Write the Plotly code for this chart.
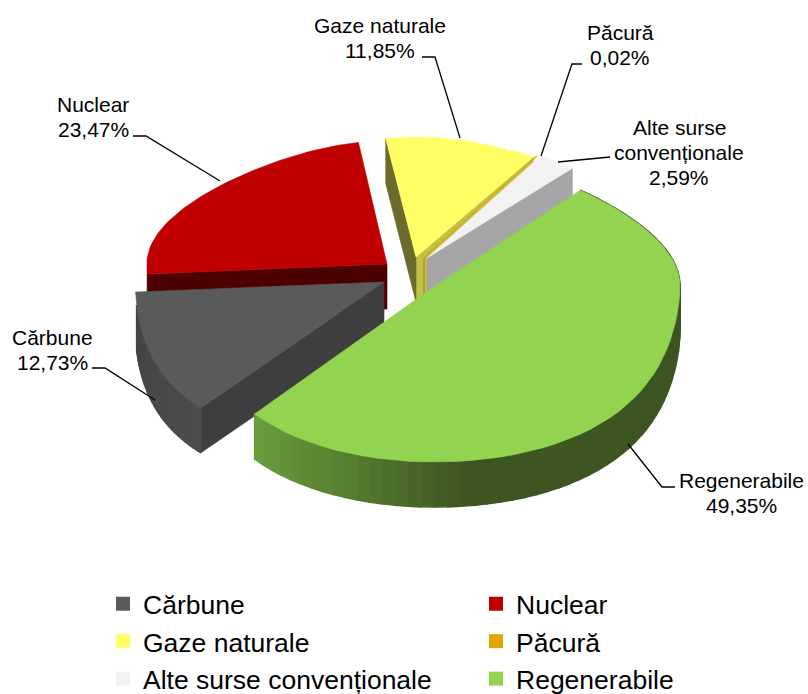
import math
import plotly.graph_objects as go

# ---- data ----
categories = ["Cărbune", "Nuclear", "Gaze naturale", "Păcură", "Alte surse convenționale", "Regenerabile"]
values = [12.73, 23.47, 11.85, 0.02, 2.59, 49.35]
label_lines = [["Cărbune"], ["Nuclear"], ["Gaze naturale"], ["Păcură"], ["Alte surse", "convenționale"], ["Regenerabile"]]

# ---- styles ----
top_colors = ["#5a5a5a", "#c00000", "#ffff66", "#e3a600", "#f2f2f2", "#92d350"]
wall_colors = ["#3e3e3e", "#4c0000", "#6b6b2c", "#b8860b", "#a6a6a6", "#3d5521"]
end_wall_colors = [None, None, "#c0c04c", None, None, None]
apexes = [(384, 282), (387, 264), (416, 257), (424, 258), (427, 258), (435, 286)]
near_ry = [166, 166, 166, 166, 166, 176]
far_ry = [123, 123, 120, 123, 123, 131]
near_pow = [1, 1, 1, 1, 1, 1.15]
rx_scale = [1.015, 0.98, 1.04, 1, 1, 1]
legend_slots = ["legend", "legend2", "legend", "legend2", "legend", "legend2"]
start_angle = 220.7   # clockwise from 12 o'clock, first slice start
label_centers = [(52, 337), (93, 104), (380, 25), (620, 32), (679, 127), (741, 480)]
leaders = [
    [(92, 368), (105, 368), (155, 400)],
    [(133, 136), (146, 136), (220, 181)],
    [(422, 57), (435, 57), (460, 138)],
    [(582, 64), (572, 64), (541, 156)],
    [(558, 162), (605, 157), (610, 157)],
    [(675, 487), (662, 487), (628, 444)],
]
LINE_GAP = 25
FONT = "Liberation Sans"
DEPTH = 45


def project(phi, i):
    apex = apexes[i]
    u, v = math.sin(math.radians(phi)), -math.cos(math.radians(phi))
    if v > 0:
        rx = 245 + 55 * v * v
        dy = near_ry[i] * v ** near_pow[i]
    else:
        rx = 245 - 60 * v * v
        dy = far_ry[i] * v
    return apex[0] + rx_scale[i] * rx * u, apex[1] + dy


def arc(a0, a1, i, n=60):
    return [project(a0 + (a1 - a0) * k / n, i) for k in range(n + 1)]


def mix(c1, c2, t):
    t = max(0, min(1, t))
    a = [int(c1[i:i + 2], 16) for i in (1, 3, 5)]
    b = [int(c2[i:i + 2], 16) for i in (1, 3, 5)]
    return "rgb(%d,%d,%d)" % tuple(round(a[k] + (b[k] - a[k]) * t) for k in range(3))


fig = go.Figure()


def poly(points, color, width=0.6):
    fig.add_trace(go.Scatter(
        x=[p[0] for p in points] + [points[0][0]],
        y=[p[1] for p in points] + [points[0][1]],
        mode="lines", fill="toself", fillcolor=color,
        line=dict(color=color, width=width),
        hoverinfo="skip", showlegend=False))


# slice angles from the values
total = sum(values)
angles = []
cur = start_angle
for val in values:
    span = val / total * 360
    angles.append((cur, cur + span))
    cur += span

draw_order = [1, 2, 4, 3, 0, 5]
for i in draw_order:
    a0, a1 = angles[i]
    apex = apexes[i]
    d = DEPTH
    low = (apex[0], apex[1] + d)
    p0, p1 = project(a0, i), project(a1, i)
    if i == 0:
        poly([apex, p0, (p0[0], p0[1] + d), low], wall_colors[i])
        pts = arc(a0, min(a1, 262), i, 30)
        for k in range(len(pts) - 1):
            A, B = pts[k], pts[k + 1]
            poly([A, B, (B[0], B[1] + d), (A[0], A[1] + d)], mix("#4c4c4c", "#444444", k / 30), 1.6)
    elif i == 1:
        poly([apex, p0, (p0[0], p0[1] + d), low], wall_colors[i])
    elif i == 2:
        poly([apex, p1, (p1[0], p1[1] + d), low], end_wall_colors[i])
        poly([apex, p0, (p0[0], p0[1] + d), low], wall_colors[i])
    elif i == 3:
        poly([apex, low], wall_colors[i], 1.2)
    elif i == 4:
        poly([apex, p1, (p1[0], p1[1] + d), low], wall_colors[i])
    elif i == 5:
        pts = arc(a0, a1, i, 70)
        for k in range(len(pts) - 1):
            A, B = pts[k], pts[k + 1]
            t = (A[0] - 253) / 220
            poly([A, B, (B[0], B[1] + d), (A[0], A[1] + d)], mix("#6c9e3e", "#3d5521", t), 1.6)
    poly([apex] + arc(a0, a1, i), top_colors[i], 1.2 if i == 3 else 0.6)

# leader lines
for path in leaders:
    fig.add_trace(go.Scatter(x=[p[0] for p in path], y=[p[1] for p in path], mode="lines",
                             line=dict(color="black", width=1.3), hoverinfo="skip", showlegend=False))

# legend entries
for name, col, slot in zip(categories, top_colors, legend_slots):
    fig.add_trace(go.Scatter(x=[None], y=[None], mode="markers", name=name, legend=slot,
                             marker=dict(symbol="square", size=14, color=col)))

# data labels
annotations = []
for lines, val, (cx, cy) in zip(label_lines, values, label_centers):
    texts = lines + [f"{val:.2f}%".replace(".", ",")]
    for j, t in enumerate(texts):
        annotations.append(dict(x=cx, y=cy + j * LINE_GAP, xref="x", yref="y", text=t, showarrow=False,
                                xanchor="center", yanchor="middle",
                                font=dict(family=FONT, size=21, color="black")))

legend_base = dict(yanchor="bottom", y=-9 / 694, xanchor="left", itemwidth=30, itemclick=False,
                   bgcolor="rgba(0,0,0,0)", font=dict(family=FONT, size=26.5, color="black"))
fig.update_layout(
    width=808, height=694, margin=dict(l=0, r=0, t=0, b=0, autoexpand=False),
    paper_bgcolor="white", plot_bgcolor="white",
    xaxis=dict(range=[0, 808], visible=False, fixedrange=True),
    yaxis=dict(range=[694, 0], visible=False, fixedrange=True),
    annotations=annotations,
    showlegend=True,
    legend=dict(x=103 / 808, **legend_base),
    legend2=dict(x=476 / 808, **legend_base),
)
fig.write_html("out.html", post_script="document.body.style.margin='0';document.body.style.overflow='hidden';",
               config={"displayModeBar": False})
